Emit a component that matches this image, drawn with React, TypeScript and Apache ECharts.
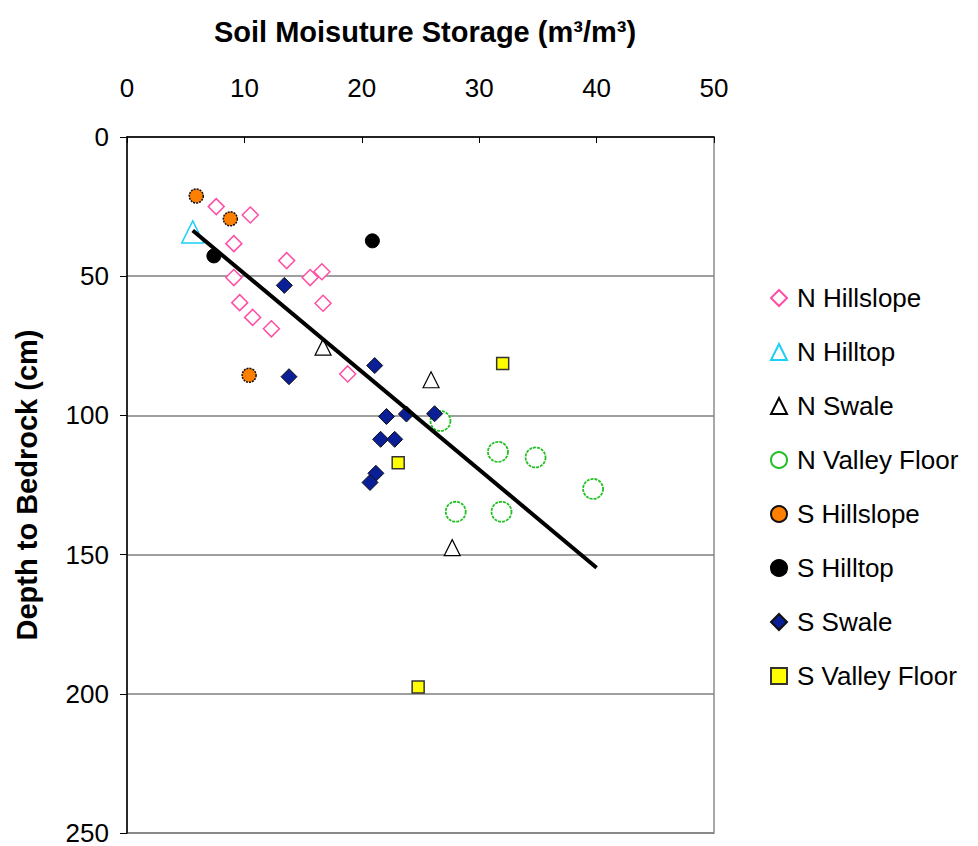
import { useRef, useEffect } from "react";
import * as echarts from "echarts";

// Soil moisture storage (x) vs depth to bedrock (y)
const nHillslope: [number, number][] = [
  [7.6, 25.0], [10.5, 28.0], [9.1, 38.3], [13.6, 44.4], [9.1, 50.5], [15.6, 50.5],
  [16.6, 48.4], [9.6, 59.5], [16.7, 59.7], [10.7, 64.8], [12.3, 68.9], [18.8, 85.1],
];
const nHilltop: [number, number][] = [[5.6, 34.1]];
const nSwale: [number, number][] = [[16.7, 75.5], [25.9, 87.2], [27.7, 147.5]];
const nValleyFloor: [number, number][] = [
  [26.7, 102.0], [31.6, 113.1], [34.8, 115.1], [39.7, 126.4], [28.0, 134.6], [31.9, 134.6],
];
const sHillslope: [number, number][] = [[5.9, 21.2], [8.8, 29.4], [10.4, 85.6]];
const sHilltop: [number, number][] = [[7.4, 42.7], [20.9, 37.3]];
const sSwale: [number, number][] = [
  [13.4, 53.3], [13.8, 86.1], [21.1, 82.1], [22.1, 100.4], [23.8, 99.5],
  [26.2, 99.4], [21.6, 108.6], [22.8, 108.6], [21.2, 120.8], [20.7, 124.1],
];
const sValleyFloor: [number, number][] = [[32.0, 81.4], [23.1, 117.0], [24.8, 197.6]];
// linear trendline end points
const trendline: [number, number][] = [[5.6, 33.6], [40.0, 154.7]];

const FONT = "'Liberation Sans', Arial, sans-serif";

export default function App() {
  const chartRef = useRef<HTMLDivElement>(null);

  useEffect(() => {
    if (!chartRef.current) return;
    const chart = echarts.init(chartRef.current, undefined, { renderer: "svg" });

    const scatter = (
      name: string,
      data: [number, number][],
      symbol: string,
      size: number,
      itemStyle: Record<string, unknown>
    ) => ({
      name,
      type: "scatter" as const,
      data,
      symbol,
      symbolSize: size,
      itemStyle: { opacity: 1, ...itemStyle },
      z: 3,
    });

    const option: echarts.EChartsOption = {
      animation: false,
      backgroundColor: "#fff",
      textStyle: { fontFamily: FONT },
      title: {
        text: "Soil Moisuture Storage (m³/m³)",
        left: 420,
        top: 12,
        textAlign: "center",
        textStyle: { fontFamily: FONT, fontSize: 29, fontWeight: "bold", color: "#000" },
      },
      grid: {
        left: 127,
        top: 137,
        right: 264,
        bottom: 12,
        show: true,
        borderColor: "#8c8c8c",
        borderWidth: 1.5,
      },
      legend: {
        orient: "vertical",
        left: 765,
        top: 280,
        itemWidth: 16,
        itemHeight: 16,
        itemGap: 28,
        data: [
          "N Hillslope", "N Hilltop", "N Swale", "N Valley Floor",
          "S Hillslope", "S Hilltop", "S Swale", "S Valley Floor",
        ],
        textStyle: {
          fontFamily: FONT,
          fontSize: 26,
          color: "#000",
          padding: [0, 0, 0, 5],
        },
      },
      xAxis: {
        type: "value",
        position: "top",
        min: 0,
        max: 50,
        interval: 10,
        axisLine: { show: true, lineStyle: { color: "#000", width: 1.5 } },
        axisTick: { show: true, inside: true, length: 6, lineStyle: { color: "#000" } },
        axisLabel: { fontFamily: FONT, fontSize: 26, color: "#000", margin: 36 },
        splitLine: { show: false },
      },
      yAxis: {
        type: "value",
        inverse: true,
        min: 0,
        max: 250,
        interval: 50,
        name: "Depth to Bedrock (cm)",
        nameLocation: "middle",
        nameGap: 86,
        nameTextStyle: { fontFamily: FONT, fontSize: 29, fontWeight: "bold", color: "#000" },
        axisLine: { show: true, lineStyle: { color: "#000", width: 1.5 } },
        axisTick: { show: true, inside: false, length: 7, lineStyle: { color: "#000" } },
        axisLabel: { fontFamily: FONT, fontSize: 26, color: "#000", margin: 18 },
        splitLine: { show: true, lineStyle: { color: "#7f7f7f", width: 1.5 } },
      },
      series: [
        scatter("N Hillslope", nHillslope, "diamond", 16, {
          color: "#fff", borderColor: "#ff4fa3", borderWidth: 1.5,
        }),
        scatter("N Hilltop", nHilltop, "triangle", 22, {
          color: "#fff", borderColor: "#1ad0f5", borderWidth: 1.5,
        }),
        scatter("N Swale", nSwale, "triangle", 16, {
          color: "#fff", borderColor: "#000", borderWidth: 1.2,
        }),
        scatter("N Valley Floor", nValleyFloor, "circle", 20, {
          color: "#fff", borderColor: "#22c022", borderWidth: 1.8, borderType: [3, 1],
        }),
        scatter("S Hillslope", sHillslope, "circle", 14, {
          color: "#ff7f00", borderColor: "#111", borderWidth: 1.5, borderType: [2, 1],
        }),
        scatter("S Hilltop", sHilltop, "circle", 14, {
          color: "#000", borderColor: "#000", borderWidth: 1,
        }),
        scatter("S Swale", sSwale, "diamond", 16, {
          color: "#0a1e96", borderColor: "#111", borderWidth: 1,
        }),
        scatter("S Valley Floor", sValleyFloor, "rect", 12, {
          color: "#ffff00", borderColor: "#333", borderWidth: 1.5,
        }),
        {
          name: "Trendline",
          type: "line",
          data: trendline,
          symbol: "none",
          lineStyle: { color: "#000", width: 4 },
          z: 4,
        },
      ],
    };

    chart.setOption(option);
    return () => chart.dispose();
  }, []);

  return (
    <div
      ref={chartRef}
      style={{ position: "absolute", left: 0, top: 0, width: 978, height: 846 }}
    />
  );
}
